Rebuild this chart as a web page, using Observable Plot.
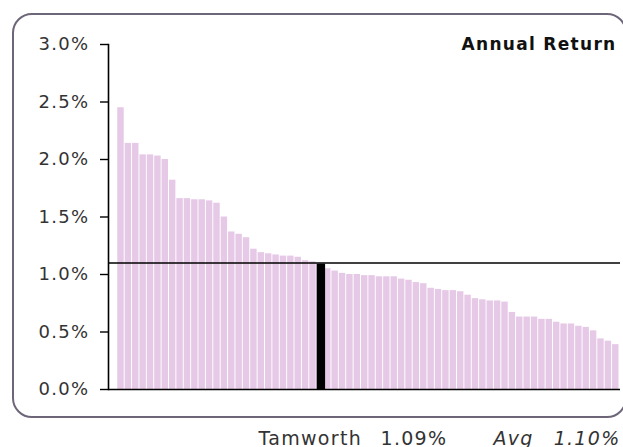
<!DOCTYPE html>
<html>
<head>
<meta charset="utf-8">
<script src="https://cdn.jsdelivr.net/npm/d3@7"></script>
<script src="https://cdn.jsdelivr.net/npm/@observablehq/plot@0.6"></script>
<style>
html, body { margin: 0; padding: 0; background: #fff; }
#wrap { position: relative; width: 623px; height: 447px; overflow: hidden; }
#chart { position: absolute; left: 0; top: 0; }
#box { position: absolute; left: 12px; top: 13px; width: 611px; height: 401px;
       border: 2px solid #6d6679; border-radius: 20px; pointer-events: none; }
#chart svg text { letter-spacing: 1.3px; }
</style>
</head>
<body>
<div id="wrap"><div id="chart"></div><div id="box"></div></div>
<script>
// Annual returns (%) of each fund, sorted descending; Tamworth highlighted
const returns = [
  2.45, 2.14, 2.14, 2.04, 2.04, 2.03, 2.00, 1.82, 1.66, 1.66,
  1.65, 1.65, 1.64, 1.62, 1.50, 1.37, 1.35, 1.32, 1.22, 1.19,
  1.18, 1.17, 1.16, 1.16, 1.15, 1.12, 1.11, 1.09, 1.05, 1.03,
  1.01, 1.00, 1.00, 0.99, 0.99, 0.98, 0.98, 0.98, 0.96, 0.95,
  0.93, 0.92, 0.88, 0.87, 0.86, 0.86, 0.85, 0.82, 0.79, 0.78,
  0.77, 0.77, 0.76, 0.67, 0.63, 0.63, 0.63, 0.61, 0.61, 0.585,
  0.57, 0.57, 0.55, 0.54, 0.51, 0.44, 0.42, 0.39
];
const highlightIndex = 27;
const highlightName = "Tamworth";
const highlightLabel = "1.09%";
const avgValue = 1.10;
const avgName = "Avg";
const avgLabel = "1.10%";
const titleText = "Annual Return";
const yTickValues = [0, 0.5, 1.0, 1.5, 2.0, 2.5, 3.0];
const yTickLabels = ["0.0%", "0.5%", "1.0%", "1.5%", "2.0%", "2.5%", "3.0%"];

const data = returns.map((v, i) => ({i, v}));
const highlight = [data[highlightIndex]];

const chart = Plot.plot({
  width: 623,
  height: 447,
  marginLeft: 108,
  marginRight: 3,
  marginTop: 44,
  marginBottom: 58,
  style: {background: "transparent", fontFamily: "DejaVu Sans", fontSize: "18px", color: "#222"},
  x: {type: "band", domain: data.map(d => d.i), paddingInner: 0.13, paddingOuter: 0.73, align: 0.86, round: false, axis: null},
  y: {domain: [0, 3], axis: null, label: null},
  marks: [
    Plot.barY(data, {x: "i", y: "v", fill: "#e6c9e6"}),
    Plot.barY(highlight, {x: "i", y: "v", fill: "#000", insetRight: -2}),
    Plot.ruleY([avgValue], {stroke: "#000", strokeWidth: 1.6}),
    Plot.ruleY([0], {stroke: "#000", strokeWidth: 1.6}),
    Plot.frame({anchor: "left", stroke: "#000", strokeWidth: 1.6}),
    Plot.axisY({
      ticks: yTickValues,
      tickFormat: d => yTickLabels[yTickValues.indexOf(d)],
      tickSize: 8,
      tickPadding: 11,
      fontSize: 18,
      fill: "#333",
      stroke: "#000",
      strokeWidth: 1.4,
      label: null
    }),
    Plot.text([titleText], {frameAnchor: "top-right", textAnchor: "end", lineAnchor: "bottom",
      dx: -4, dy: 5, fontWeight: "bold", fontSize: 17, fill: "#111"}),
    Plot.text([highlightName], {frameAnchor: "bottom-left", textAnchor: "start", lineAnchor: "bottom",
      dx: 150, dy: 55, fontSize: 19, fill: "#333"}),
    Plot.text([highlightLabel], {frameAnchor: "bottom-left", textAnchor: "start", lineAnchor: "bottom",
      dx: 272, dy: 55, fontSize: 19, fill: "#333"}),
    Plot.text([avgName], {frameAnchor: "bottom-left", textAnchor: "start", lineAnchor: "bottom",
      dx: 385, dy: 55, fontSize: 19, fontStyle: "italic", fill: "#333"}),
    Plot.text([avgLabel], {frameAnchor: "bottom-right", textAnchor: "end", lineAnchor: "bottom",
      dx: 0, dy: 55, fontSize: 19, fontStyle: "italic", fill: "#333"})
  ]
});
document.getElementById("chart").appendChild(chart);
</script>
</body>
</html>
